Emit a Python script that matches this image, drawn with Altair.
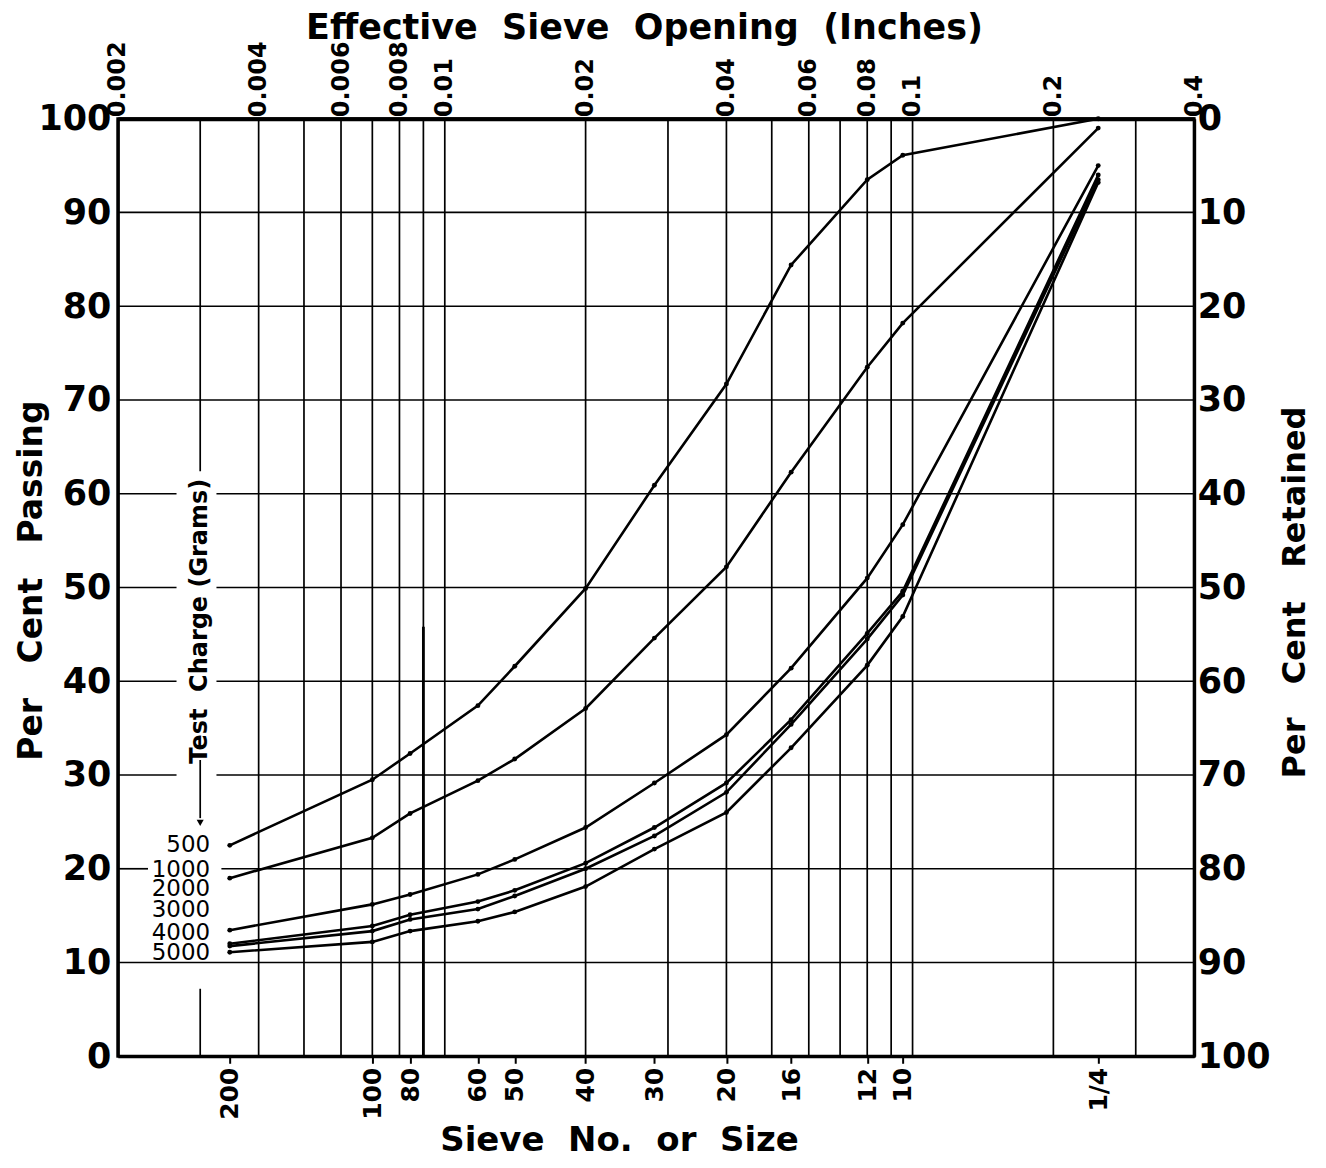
import altair as alt
import pandas as pd

# ---------------- data ----------------
sieve_labels = ["200", "100", "80", "60", "50", "40", "30", "20", "16", "12", "10", "1/4"]
sieve_opening = [0.00347, 0.0070, 0.00843, 0.01177, 0.01411, 0.0200, 0.02806, 0.0400, 0.0550, 0.0800, 0.0953, 0.2494]

charges = ["500", "1000", "2000", "3000", "4000", "5000"]
pass_500 = [22.5, 29.5, 32.3, 37.4, 41.6, 49.9, 60.9, 71.7, 84.4, 93.5, 96.1, 100.0]
pass_1000 = [19.0, 23.3, 25.9, 29.4, 31.7, 37.1, 44.6, 52.2, 62.3, 73.5, 78.2, 99.0]
pass_2000 = [13.45, 16.2, 17.25, 19.4, 21.0, 24.4, 29.15, 34.3, 41.4, 51.0, 56.7, 95.0]
pass_3000 = [12.0, 13.9, 15.1, 16.5, 17.7, 20.6, 24.4, 29.15, 35.9, 45.1, 49.6, 94.0]
pass_4000 = [11.75, 13.35, 14.6, 15.7, 17.1, 20.0, 23.5, 28.15, 35.4, 44.5, 49.2, 93.5]
pass_5000 = [11.1, 12.2, 13.35, 14.4, 15.4, 18.1, 22.1, 26.0, 32.9, 41.7, 46.9, 93.2]
series = [pass_500, pass_1000, pass_2000, pass_3000, pass_4000, pass_5000]

top_ticks = [0.002, 0.004, 0.006, 0.008, 0.01, 0.02, 0.04, 0.06, 0.08, 0.1, 0.2, 0.4]
top_labels = ["0.002", "0.004", "0.006", "0.008", "0.01", "0.02", "0.04", "0.06", "0.08", "0.1", "0.2", "0.4"]
grid_x = [0.003, 0.004, 0.005, 0.006, 0.007, 0.008, 0.009, 0.01,
          0.02, 0.03, 0.04, 0.05, 0.06, 0.07, 0.08, 0.09, 0.1, 0.2, 0.3]
grid_y = [10, 20, 30, 40, 50, 60, 70, 80, 90]
y_ticks = [0, 10, 20, 30, 40, 50, 60, 70, 80, 90, 100]

# ------------- layout constants (annotation placement) -------------
FONT = "DejaVu Sans"
GAP2 = "\u00a0\u00a0"
GAP3 = "\u00a0\u00a0\u00a0"
X_MIN, X_MAX = 0.002, 0.4
label_x = 0.00315
label_y = [22.5, 19.9, 17.8, 15.6, 13.2, 11.0]
legend_x = 0.003
legend_text_y = 46.4

xscale = alt.Scale(type="log", domain=[X_MIN, X_MAX], nice=False, zero=False)
yscale = alt.Scale(domain=[0, 100], nice=False, zero=False)

# ------------- tables -------------
rows = []
for name, vals in zip(charges, series):
    for s, xo, v in zip(sieve_labels, sieve_opening, vals):
        rows.append({"charge": name, "sieve": s, "x": xo, "y": v})
df = pd.DataFrame(rows)

# horizontal grid segments (some interrupted by the lettering)
hseg = []
for v in grid_y:
    if v in (30, 40, 50, 60):
        parts = [(X_MIN, 0.00267), (0.00325, X_MAX)]
    elif v == 20:
        parts = [(X_MIN, 0.00232), (0.00333, X_MAX)]
    else:
        parts = [(X_MIN, X_MAX)]
    for a, b in parts:
        hseg.append({"x": a, "x2": b, "y": v})
hdf = pd.DataFrame(hseg)

vseg = []
for g in grid_x:
    if g == 0.003:
        parts = [(62.4, 100), (0, 7.2)]
    else:
        parts = [(0, 100)]
    for a, b in parts:
        vseg.append({"x": g, "y": a, "y2": b})
vdf = pd.DataFrame(vseg)

lab_df = pd.DataFrame({"x": [label_x] * len(charges), "y": label_y, "t": charges})


def X(axis=None, field="x"):
    return alt.X(f"{field}:Q", scale=xscale, axis=axis)


def Y(axis=None, field="y"):
    return alt.Y(f"{field}:Q", scale=yscale, axis=axis)


def js_list(vals, quote=False):
    if quote:
        return "[" + ",".join("'" + v + "'" for v in vals) + "]"
    return "[" + ",".join(repr(v) for v in vals) + "]"


bottom_axis = alt.Axis(
    orient="bottom", values=sieve_opening,
    labelExpr=f"{js_list(sieve_labels, True)}[indexof({js_list(sieve_opening)}, datum.value)]",
    labelAngle=270, labelFont=FONT, labelFontSize=25, labelFontWeight="bold", labelColor="black",
    labelPadding=4, labelOverlap=False, labelFlush=False,
    tickSize=7, tickWidth=2, tickColor="black",
    domainWidth=3, domainColor="black", grid=False,
    title=f"Sieve{GAP2}No.{GAP2}or{GAP2}Size", titleFont=FONT, titleFontSize=34, titleFontWeight="bold",
    titleColor="black", titleX=502, titleY=94, titleAlign="center", titleBaseline="alphabetic",
)
top_axis = alt.Axis(
    orient="top", values=top_ticks,
    labelExpr=f"{js_list(top_labels, True)}[indexof({js_list(top_ticks)}, datum.value)]",
    labelAngle=270, labelFont=FONT, labelFontSize=24, labelFontWeight="bold", labelColor="black",
    labelPadding=2, labelOverlap=False, labelFlush=False, ticks=False,
    domainWidth=4, domainColor="black", grid=False,
    title=f"Effective{GAP2}Sieve{GAP2}Opening{GAP2}(Inches)", titleFont=FONT, titleFontSize=35,
    titleFontWeight="bold", titleColor="black", titleX=527, titleY=-80,
    titleAlign="center", titleBaseline="alphabetic",
)
left_axis = alt.Axis(
    orient="left", values=y_ticks, format="d",
    labelFont=FONT, labelFontSize=35, labelFontWeight="bold", labelColor="black",
    labelPadding=7, labelOverlap=False, labelFlush=False, ticks=False,
    domainWidth=3, domainColor="black", grid=False,
    title=f"Per{GAP3}Cent{GAP3}Passing", titleFont=FONT, titleFontSize=33, titleFontWeight="bold",
    titleColor="black", titleAngle=270, titleX=-86, titleY=462,
    titleAlign="center", titleBaseline="middle",
)
right_axis = alt.Axis(
    orient="right", values=y_ticks,
    labelExpr="format(100 - datum.value, 'd')",
    labelFont=FONT, labelFontSize=35, labelFontWeight="bold", labelColor="black",
    labelPadding=3, labelOverlap=False, labelFlush=False, ticks=False,
    domainWidth=3, domainColor="black", grid=False,
    title=f"Per{GAP3}Cent{GAP3}Retained", titleFont=FONT, titleFontSize=32, titleFontWeight="bold",
    titleColor="black", titleAngle=270, titleX=100, titleY=474,
    titleAlign="center", titleBaseline="middle",
)

hgrid = alt.Chart(hdf).mark_rule(color="black", strokeWidth=1.7).encode(
    x=X(), x2="x2:Q", y=Y())
vgrid = alt.Chart(vdf).mark_rule(color="black", strokeWidth=1.7).encode(
    x=X(), y=Y(), y2="y2:Q")
thick = alt.Chart(pd.DataFrame({"x": [0.009], "y": [45.8], "y2": [0]})).mark_rule(
    color="black", strokeWidth=2.8).encode(x=X(), y=Y(), y2="y2:Q")
arrow_line = alt.Chart(pd.DataFrame({"x": [legend_x], "y": [31.6], "y2": [25.4]})).mark_rule(
    color="black", strokeWidth=1.7).encode(x=X(), y=Y(), y2="y2:Q")
arrow_head = alt.Chart(pd.DataFrame({"x": [legend_x], "y": [24.9]})).mark_point(
    shape="triangle-down", filled=True, color="black", size=50, opacity=1).encode(x=X(), y=Y())
legend_text = alt.Chart(pd.DataFrame({"x": [legend_x], "y": [legend_text_y],
                                      "t": ["Test\u00a0\u00a0Charge\u00a0(Grams)"]})).mark_text(
    angle=270, align="center", baseline="middle", font=FONT, fontSize=24,
    fontWeight="bold", color="black").encode(x=X(), y=Y(), text="t:N")
labels = alt.Chart(lab_df).mark_text(
    align="right", baseline="middle", font=FONT, fontSize=23, color="black").encode(
    x=X(), y=Y(), text="t:N")

lines = alt.Chart(df).mark_line(color="black", strokeWidth=2.6).encode(
    x=X(bottom_axis), y=Y(left_axis), detail="charge:N")
points = alt.Chart(df).mark_circle(color="black", size=24, opacity=1).encode(
    x=X(top_axis), y=Y(right_axis), detail="charge:N")

chart = alt.layer(
    hgrid, vgrid, thick, arrow_line, arrow_head, legend_text, labels, lines, points
).resolve_axis(x="independent", y="independent").properties(
    width=1078, height=939,
    autosize=alt.AutoSizeParams(type="none"),
    padding={"left": 110, "top": 110, "right": 124, "bottom": 103},
    background="white",
).configure_view(stroke="black", strokeWidth=3)

chart.save("out.html", embed_options={"renderer": "svg", "actions": False})
